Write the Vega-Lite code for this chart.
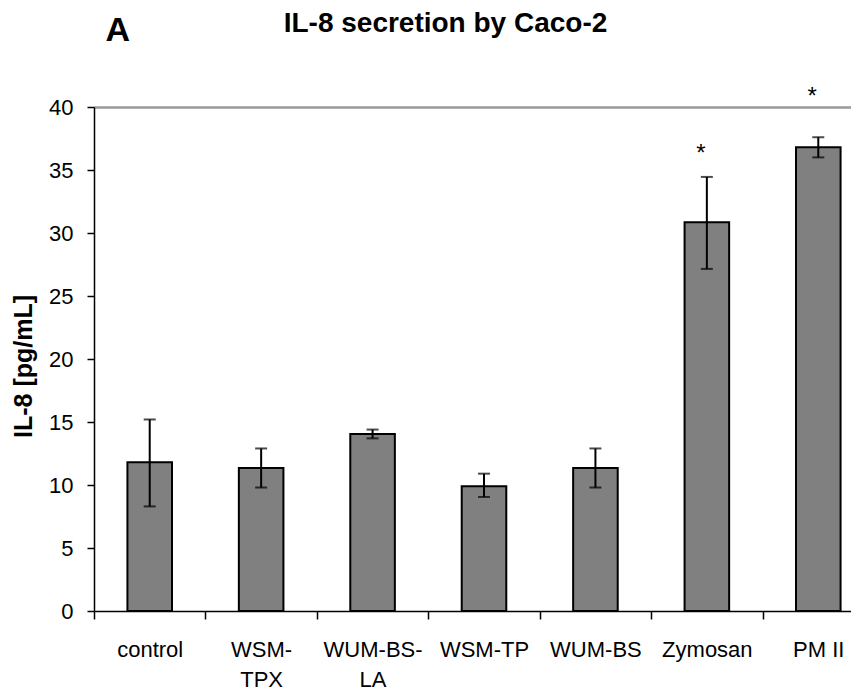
{
  "$schema": "https://vega.github.io/schema/vega-lite/v6.json",
  "width": 757,
  "height": 504,
  "autosize": {"type": "none"},
  "padding": {"left": 94, "top": 107, "right": 0, "bottom": 80},
  "background": "white",
  "config": {"font": "Liberation Sans", "view": {"stroke": null}},
  "title": {
    "text": "IL-8 secretion by Caco-2",
    "font": "Liberation Sans",
    "fontSize": 28,
    "fontWeight": "bold",
    "color": "black",
    "anchor": "middle",
    "baseline": "alphabetic",
    "dx": -27,
    "offset": -46
  },
  "datasets": {
    "main": [
      {"group": "control", "value": 11.8, "lo": 8.3, "hi": 15.2},
      {"group": "WSM-TPX", "value": 11.35, "lo": 9.8, "hi": 12.9},
      {"group": "WUM-BS-LA", "value": 14.05, "lo": 13.7, "hi": 14.4},
      {"group": "WSM-TP", "value": 9.9, "lo": 9.05, "hi": 10.9},
      {"group": "WUM-BS", "value": 11.35, "lo": 9.8, "hi": 12.9},
      {"group": "Zymosan", "value": 30.85, "lo": 27.15, "hi": 34.45},
      {"group": "PM II", "value": 36.8, "lo": 36.0, "hi": 37.6}
    ],
    "sig": [
      {"group": "Zymosan", "label": "*", "pos": 36.7},
      {"group": "PM II", "label": "*", "pos": 41.2}
    ],
    "panel": [{"label": "A"}]
  },
  "layer": [
    {
      "data": {"name": "main"},
      "mark": {"type": "bar", "fill": "#808080", "stroke": "black", "strokeWidth": 2, "width": {"band": 0.4}},
      "encoding": {
        "x": {
          "field": "group", "type": "nominal", "sort": null,
          "scale": {"range": [0, 780], "paddingInner": 0, "paddingOuter": 0},
          "axis": {
            "title": null,
            "labelAngle": 0,
            "labelFontSize": 22,
            "labelColor": "black",
            "labelPadding": 20,
            "labelLineHeight": 30,
            "labelOverlap": false,
            "labelBound": false,
            "labelFlush": false,
            "labelExpr": "datum.value == 'WSM-TPX' ? ['WSM-', 'TPX'] : datum.value == 'WUM-BS-LA' ? ['WUM-BS-', 'LA'] : datum.value",
            "tickBand": "extent",
            "tickSize": 8,
            "tickColor": "black",
            "tickWidth": 1.5,
            "domainColor": "black",
            "domainWidth": 1.5
          }
        },
        "y": {
          "field": "value", "type": "quantitative",
          "scale": {"domain": [0, 40], "nice": false},
          "axis": {
            "title": "IL-8 [pg/mL]",
            "titleFontSize": 25,
            "titleFontWeight": "bold",
            "titleColor": "black",
            "titleX": -58,
            "titleY": 259,
            "values": [0, 5, 10, 15, 20, 25, 30, 35, 40],
            "labelFontSize": 22,
            "labelColor": "black",
            "labelPadding": 14,
            "tickSize": 7,
            "tickColor": "black",
            "tickWidth": 1.5,
            "domainColor": "black",
            "domainWidth": 1.5,
            "grid": true,
            "gridColor": "#999999",
            "gridWidth": 2.5,
            "gridOpacity": {"condition": {"test": "datum.value == 40", "value": 1}, "value": 0}
          }
        }
      }
    },
    {
      "data": {"name": "main"},
      "mark": {"type": "rule", "color": "black", "strokeWidth": 2},
      "encoding": {
        "x": {"field": "group", "type": "nominal", "sort": null},
        "y": {"field": "lo", "type": "quantitative"},
        "y2": {"field": "hi"}
      }
    },
    {
      "data": {"name": "main"},
      "mark": {"type": "tick", "color": "black", "size": 12, "thickness": 2},
      "encoding": {
        "x": {"field": "group", "type": "nominal", "sort": null},
        "y": {"field": "lo", "type": "quantitative"}
      }
    },
    {
      "data": {"name": "main"},
      "mark": {"type": "tick", "color": "black", "size": 12, "thickness": 2},
      "encoding": {
        "x": {"field": "group", "type": "nominal", "sort": null},
        "y": {"field": "hi", "type": "quantitative"}
      }
    },
    {
      "data": {"name": "sig"},
      "mark": {"type": "text", "fontSize": 24, "color": "black", "baseline": "middle", "dx": -6, "dy": 5},
      "encoding": {
        "x": {"field": "group", "type": "nominal", "sort": null},
        "y": {"field": "pos", "type": "quantitative"},
        "text": {"field": "label"}
      }
    },
    {
      "data": {"name": "panel"},
      "mark": {"type": "text", "fontSize": 34, "fontWeight": "bold", "color": "black", "baseline": "alphabetic", "dx": -32},
      "encoding": {
        "x": {"datum": "control"},
        "y": {"datum": 45.2},
        "text": {"field": "label"}
      }
    }
  ]
}
